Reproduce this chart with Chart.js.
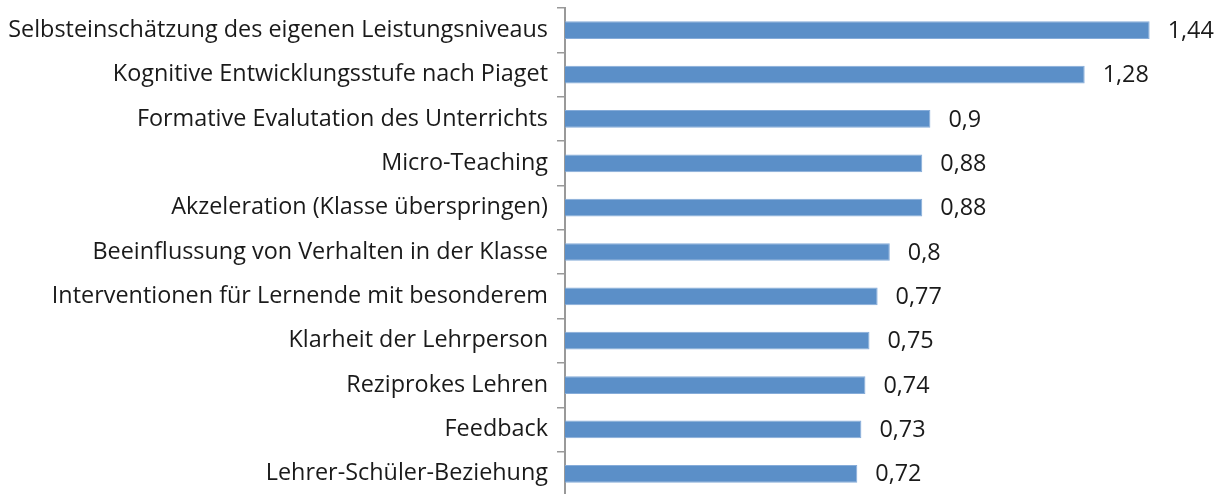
<!DOCTYPE html>
<html><head><meta charset="utf-8">
<script src="https://cdn.jsdelivr.net/npm/chart.js@4/dist/chart.umd.min.js"></script>
<style>html,body{margin:0;padding:0;background:#fff;overflow:hidden}canvas{display:block}</style>
</head><body>
<canvas id="c" width="1226" height="496"></canvas>
<script>
const categories = [
  "Selbsteinschätzung des eigenen Leistungsniveaus",
  "Kognitive Entwicklungsstufe nach Piaget",
  "Formative Evalutation des Unterrichts",
  "Micro-Teaching",
  "Akzeleration (Klasse überspringen)",
  "Beeinflussung von Verhalten in der Klasse",
  "Interventionen für Lernende mit besonderem",
  "Klarheit der Lehrperson",
  "Reziprokes Lehren",
  "Feedback",
  "Lehrer-Schüler-Beziehung"
];
const values = [1.44, 1.28, 0.9, 0.88, 0.88, 0.8, 0.77, 0.75, 0.74, 0.73, 0.72];

const FONT = "'Open Sans', sans-serif";
const FSIZE = 23.4;
const valueLabels = {
  id: 'valueLabels',
  afterDatasetsDraw(chart) {
    const ctx = chart.ctx;
    const meta = chart.getDatasetMeta(0);
    ctx.save();
    ctx.font = FSIZE + "px " + FONT;
    ctx.fillStyle = "#1a1a1a";
    ctx.textBaseline = "middle";
    ctx.textAlign = "left";
    meta.data.forEach((bar, i) => {
      ctx.fillText(String(values[i]).replace('.', ','), bar.x + 18, bar.y + 1);
    });
    ctx.restore();
  }
};

new Chart(document.getElementById('c'), {
  type: 'bar',
  data: {
    labels: categories,
    datasets: [{
      data: values,
      backgroundColor: '#5b8fc8',
      borderColor: '#86acd9',
      borderWidth: 1,
      barPercentage: 0.8,
      categoryPercentage: 0.5
    }]
  },
  options: {
    indexAxis: 'y',
    responsive: false,
    animation: false,
    layout: { padding: { top: 8, bottom: 0, right: 52, left: 0 } },
    plugins: { legend: { display: false }, tooltip: { enabled: false } },
    scales: {
      x: { display: false, min: 0, max: 1.5 },
      y: {
        afterFit(s) { s.width = 565; s.paddingTop = 0; s.paddingBottom = 0; },
        grid: { offset: true, drawOnChartArea: false, tickLength: 8, color: '#999', lineWidth: 1.5 },
        border: { display: true, color: '#999', width: 2 },
        ticks: { color: '#1a1a1a', font: { family: FONT, size: FSIZE }, padding: 9, autoSkip: false }
      }
    }
  },
  plugins: [valueLabels]
});
</script>
</body></html>
